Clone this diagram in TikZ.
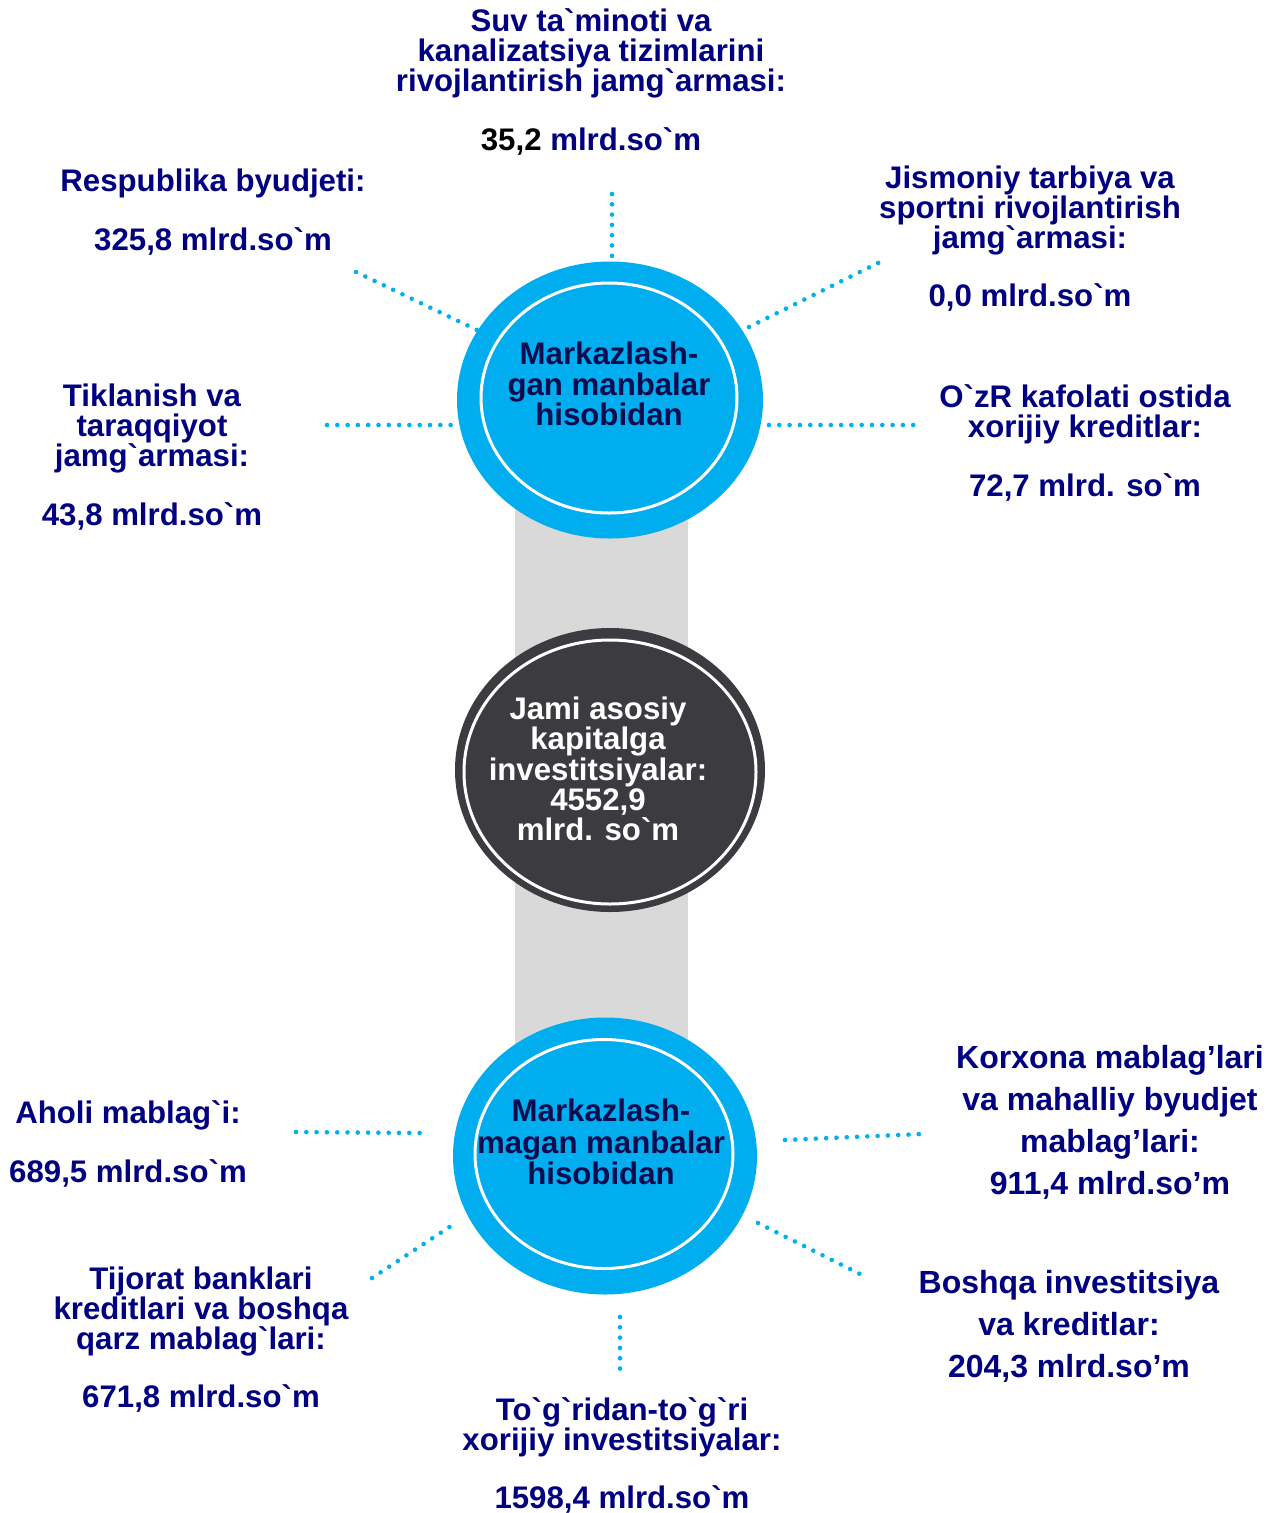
\documentclass[tikz,border=0pt]{standalone}
\usepackage{fontspec}
\setmainfont{Liberation Sans}[Ligatures=TeXOff]
\usetikzlibrary{shapes.geometric}
\definecolor{navy}{HTML}{000080}
\definecolor{circtext}{HTML}{0C0C4E}
\definecolor{cyanc}{HTML}{00ADEF}
\definecolor{dotc}{HTML}{00B0F0}
\definecolor{darkc}{HTML}{3C3C40}
\definecolor{barc}{HTML}{D9D9D9}
\tikzset{
  lbl/.style={align=center, text=navy, inner sep=0pt, font=\bfseries\fontsize{31.2}{30}\selectfont},
  lblw/.style={align=center, text=navy, inner sep=0pt, font=\bfseries\fontsize{32}{42}\selectfont},
  ctext/.style={align=center, inner sep=0pt, font=\bfseries\fontsize{31.2}{30.5}\selectfont},
  outerell/.style={ellipse, inner sep=0pt, draw=none},
  ringell/.style={ellipse, inner sep=0pt, draw=white, line width=3pt},
  dotline/.style={draw=dotc, line width=4.6pt, line cap=round, dash pattern=on 0pt off 10.3pt},
}
\begin{document}
\begin{tikzpicture}[x=1pt,y=-1pt]
\useasboundingbox (0,0) rectangle (1281,1513);
% gray bar
\fill[barc] (515,500) rectangle (688,1045);
% circles
\node[outerell, fill=cyanc, minimum width=306pt, minimum height=277pt] (topc) at (610,400) {};
\node[ringell, minimum width=256pt, minimum height=230pt] (topr) at (609,398) {};
\node[outerell, fill=darkc, minimum width=310pt, minimum height=284pt] (midc) at (610,770) {};
\node[ringell, minimum width=292pt, minimum height=264pt] (midr) at (610,772) {};
\node[outerell, fill=cyanc, minimum width=304pt, minimum height=277pt] (botc) at (605,1156) {};
\node[ringell, minimum width=258pt, minimum height=229pt] (botr) at (604,1154) {};
% circle texts
\node[ctext, text=circtext] (toptxt) at (609,384) {Markazlash-\\gan manbalar\\hisobidan};
\node[ctext, text=white, font=\bfseries\fontsize{31.2}{30.2}\selectfont] (midtxt) at (598,769) {Jami asosiy\\kapitalga\\investitsiyalar:\\4552,9\\mlrd. so`m};
\node[ctext, text=circtext, font=\bfseries\fontsize{31.2}{31.5}\selectfont] (bottxt) at (601,1142) {Markazlash-\\magan manbalar\\hisobidan};
% labels
\node[lbl] (suv) at (591,82) {Suv ta`minoti va\\kanalizatsiya tizimlarini\\rivojlantirish jamg`armasi:\\[29pt]\textcolor{black}{35,2} mlrd.so`m};
\node[lbl] (resp) at (213,212.5) {Respublika byudjeti:\\[29pt]325,8 mlrd.so`m};
\node[lbl] (jism) at (1030,239) {Jismoniy tarbiya va\\sportni rivojlantirish\\jamg`armasi:\\[28pt]0,0 mlrd.so`m};
\node[lbl] (tikl) at (152,457.5) {Tiklanish va\\taraqqiyot\\jamg`armasi:\\[29pt]43,8 mlrd.so`m};
\node[lbl] (ozr) at (1085,442.5) {O`zR kafolati ostida\\xorijiy kreditlar:\\[29pt]72,7 mlrd. so`m};
\node[lbl] (aholi) at (128,1143.5) {Aholi mablag`i:\\[29pt]689,5 mlrd.so`m};
\node[lblw] (korx) at (1110,1122.5) {Korxona mablag’lari\\va mahalliy byudjet\\mablag’lari:\\911,4 mlrd.so’m};
\node[lbl] (tij) at (201,1340) {Tijorat banklari\\kreditlari va boshqa\\qarz mablag`lari:\\[28pt]671,8 mlrd.so`m};
\node[lblw] (bosh) at (1069,1326.5) {Boshqa investitsiya\\va kreditlar:\\204,3 mlrd.so’m};
\node[lbl] (togri) at (622,1455) {To`g`ridan-to`g`ri\\xorijiy investitsiyalar:\\[28pt]1598,4 mlrd.so`m};
% dotted connector end points
\coordinate (d1a) at (612,194); \coordinate (d1b) at (612,258);
\coordinate (d2a) at (356,272); \coordinate (d2b) at (477,330);
\coordinate (d3a) at (880,262); \coordinate (d3b) at (749,327);
\coordinate (d4a) at (327,425); \coordinate (d4b) at (456,425);
\coordinate (d5a) at (769,425); \coordinate (d5b) at (914,425);
\coordinate (d6a) at (296,1132); \coordinate (d6b) at (422,1133);
\coordinate (d7a) at (785,1140); \coordinate (d7b) at (921,1134);
\coordinate (d8a) at (372,1278); \coordinate (d8b) at (457,1222);
\coordinate (d9a) at (758,1223); \coordinate (d9b) at (866,1277);
\coordinate (d10a) at (620,1317); \coordinate (d10b) at (620,1375);
\draw[dotline] (d1a) -- (d1b);
\draw[dotline] (d2a) -- (d2b);
\draw[dotline] (d3b) -- (d3a);
\draw[dotline] (d4a) -- (d4b);
\draw[dotline] (d5a) -- (d5b);
\draw[dotline] (d6a) -- (d6b);
\draw[dotline] (d7a) -- (d7b);
\draw[dotline] (d8a) -- (d8b);
\draw[dotline] (d9a) -- (d9b);
\draw[dotline] (d10a) -- (d10b);
\end{tikzpicture}
\end{document}
